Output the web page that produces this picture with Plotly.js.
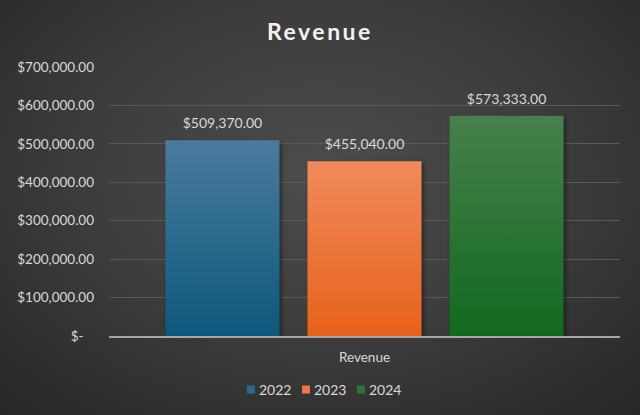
<!DOCTYPE html>
<html>
<head>
<meta charset="utf-8">
<script src="https://cdn.plot.ly/plotly-3.0.1.min.js"></script>
<style>
  html, body { margin: 0; padding: 0; }
  #chart {
    width: 640px; height: 415px;
    background: radial-gradient(ellipse 75% 80% at 50% 42%, #4c4c4c 0%, #3e3e3e 45%, #262626 100%);
  }
</style>
</head>
<body>
<div id="chart"></div>
<script>
const categories = ["Revenue"];
const seriesNames = ["2022", "2023", "2024"];
const values2022 = [509370.00];
const values2023 = [455040.00];
const values2024 = [573333.00];
const yTickVals = [0, 100000, 200000, 300000, 400000, 500000, 600000, 700000];
const yTickText = ["$-\u00a0\u00a0\u00a0", "$100,000.00", "$200,000.00", "$300,000.00", "$400,000.00", "$500,000.00", "$600,000.00", "$700,000.00"];

const colors = ["#2b6a8f", "#ec7740", "#2c7536"];
const gradTops = ["#4a7b9d", "#f08a5c", "#47804d"];
const gradBottoms = ["#0c587c", "#e7621b", "#11691e"];
const seriesValues = [values2022, values2023, values2024];

const FONT = "Lato, 'Open Sans', sans-serif";

const traces = seriesNames.map((name, i) => ({
  type: "bar",
  name: name,
  x: categories,
  y: seriesValues[i],
  marker: { color: colors[i], line: { width: 0 } },
  texttemplate: "$%{y:,.2f}",
  textposition: "outside",
  cliponaxis: false,
  textfont: { family: FONT, size: 14, color: "#d9d9d9" },
  hoverinfo: "none"
}));

const layout = {
  width: 640, height: 415,
  paper_bgcolor: "rgba(0,0,0,0)",
  plot_bgcolor: "rgba(0,0,0,0)",
  margin: { l: 109, r: 20, t: 67, b: 79 },
  title: {
    text: "<b>Revenue</b>",
    font: { family: FONT, size: 23, color: "#f2f2f2" },
    x: 0.5, xanchor: "center", xref: "container",
    y: 1 - 32 / 415, yanchor: "middle", yref: "container"
  },
  barmode: "group",
  bargap: 0.166,
  bargroupgap: 0.197,
  xaxis: {
    type: "category",
    showline: true, linecolor: "#a6a6a6", linewidth: 1.5,
    showgrid: false, zeroline: false, ticks: "",
    tickfont: { family: FONT, size: 13.5, color: "#d9d9d9" },
    ticklabelstandoff: 8
  },
  yaxis: {
    range: [0, 700000],
    tickvals: yTickVals, ticktext: yTickText,
    showgrid: true, gridcolor: "#5a5a5a", gridwidth: 1,
    zeroline: false, showline: false, ticks: "",
    tickfont: { family: FONT, size: 13.5, color: "#d9d9d9" },
    ticklabelstandoff: 14
  },
  showlegend: true,
  legend: {
    orientation: "h",
    x: 0.5, xanchor: "center", xref: "container",
    y: 25 / 415, yanchor: "middle", yref: "container",
    font: { family: FONT, size: 14, color: "#d9d9d9" },
    bgcolor: "rgba(0,0,0,0)",
    traceorder: "normal"
  }
};

Plotly.newPlot("chart", traces, layout, { displayModeBar: false, staticPlot: true }).then(gd => {
  const svg = gd.querySelector("svg.main-svg");
  const ns = "http://www.w3.org/2000/svg";
  let defs = svg.querySelector("defs");
  if (!defs) { defs = document.createElementNS(ns, "defs"); svg.insertBefore(defs, svg.firstChild); }
  gradTops.forEach((top, i) => {
    const lg = document.createElementNS(ns, "linearGradient");
    lg.setAttribute("id", "barGrad" + i);
    lg.setAttribute("x1", "0"); lg.setAttribute("y1", "0");
    lg.setAttribute("x2", "0"); lg.setAttribute("y2", "1");
    const s1 = document.createElementNS(ns, "stop");
    s1.setAttribute("offset", "0"); s1.setAttribute("stop-color", top);
    const s2 = document.createElementNS(ns, "stop");
    s2.setAttribute("offset", "1"); s2.setAttribute("stop-color", gradBottoms[i]);
    lg.appendChild(s1); lg.appendChild(s2);
    defs.appendChild(lg);
  });
  gd.querySelectorAll(".barlayer .trace").forEach((g, i) => {
    g.querySelectorAll("path").forEach(p => {
      p.style.fill = "url(#barGrad" + i + ")";
      p.style.filter = "drop-shadow(2px 2px 2px rgba(0,0,0,0.45))";
    });
    g.querySelectorAll("text.bartext").forEach(t => {
      const tr = t.getAttribute("transform") || "";
      t.setAttribute("transform", "translate(0,-6) " + tr);
    });
  });
  const t = gd.querySelector(".gtitle");
  if (t) t.style.letterSpacing = "2.5px";

  // compact legend entries (Excel-like small swatches and tight spacing)
  const items = Array.from(gd.querySelectorAll(".legend .traces"));
  const pitch = 55;
  let baseY = 0;
  items.forEach((it, i) => {
    const m = /translate\(([-\d.]+)[ ,]+([-\d.]+)\)/.exec(it.getAttribute("transform") || "");
    if (i === 0 && m) baseY = parseFloat(m[2]);
    it.setAttribute("transform", "translate(" + (i * pitch) + "," + baseY + ")");
    const txt = it.querySelector("text.legendtext");
    if (txt) txt.setAttribute("x", 12);
    it.querySelectorAll(".legendpoints path").forEach(p => {
      p.setAttribute("transform", "translate(4,0) scale(0.667)");
    });
  });
  if (items.length) {
    const firstSym = items[0].querySelector(".legendpoints path");
    const left = firstSym.getBoundingClientRect().left;
    const delta = 247 - left;
    items.forEach((it, i) => {
      it.setAttribute("transform", "translate(" + (i * pitch + delta) + "," + baseY + ")");
    });
  }
});
</script>
</body>
</html>
